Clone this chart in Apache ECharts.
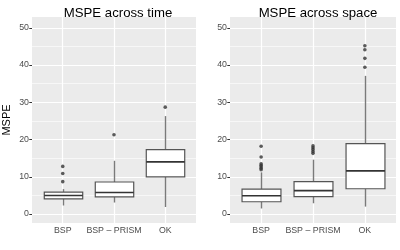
<!DOCTYPE html>
<html><head><meta charset="utf-8">
<script src="https://cdn.jsdelivr.net/npm/echarts@6/dist/echarts.min.js"></script>
<style>html,body{margin:0;padding:0;background:#fff}#c{width:400px;height:250px}</style>
</head><body><div id="c"></div>
<script>
const categories = ['BSP', 'BSP – PRISM', 'OK'];
const panelTitles = ['MSPE across time', 'MSPE across space'];
const yTicks = [0, 10, 20, 30, 40, 50];
const yGrid = [0, 5, 10, 15, 20, 25, 30, 35, 40, 45, 50];
// [lower whisker, Q1, median, Q3, upper whisker]
const timeStats = [
  [2.3, 4.1, 5.0, 5.9, 6.7],
  [3.1, 4.6, 5.8, 8.6, 14.3],
  [1.9, 10.0, 14.0, 17.3, 26.3]
];
const timeOutliers = [
  [8.7, 10.9, 12.8],
  [21.3],
  [28.7]
];
const spaceStats = [
  [1.5, 3.3, 4.9, 6.7, 11.2],
  [2.9, 4.7, 6.3, 8.7, 14.6],
  [2.0, 6.8, 11.6, 18.9, 37.1]
];
const spaceOutliers = [
  [11.9, 12.3, 12.7, 13.1, 13.5, 15.3, 18.2],
  [16.3, 16.8, 17.3, 17.8, 18.3],
  [39.4, 41.8, 44.1, 45.2]
];

const FONT = 'Liberation Sans, Arial, sans-serif';
const chart = echarts.init(document.getElementById('c'), null, {renderer: 'canvas'});

function boxData(stats) { return stats.map((s, i) => [i + 1].concat(s)); }
function outData(outs) {
  const d = [];
  outs.forEach((arr, i) => arr.forEach(v => d.push([i + 1, v])));
  return d;
}
function renderBox(params, api) {
  const x = api.value(0);
  const lo = api.coord([x, api.value(1)]);
  const q1 = api.coord([x, api.value(2)]);
  const md = api.coord([x, api.value(3)]);
  const q3 = api.coord([x, api.value(4)]);
  const hi = api.coord([x, api.value(5)]);
  const w = api.size([0.75, 0])[0];
  const cx = Math.round(q1[0]) + 0.5;
  const wl = {stroke: '#7a7a7a', lineWidth: 1.4};
  return {
    type: 'group',
    children: [
      {type: 'line', shape: {x1: cx, y1: q3[1], x2: cx, y2: hi[1]}, style: wl},
      {type: 'line', shape: {x1: cx, y1: q1[1], x2: cx, y2: lo[1]}, style: wl},
      {type: 'rect', shape: {x: cx - w / 2, y: q3[1], width: w, height: q1[1] - q3[1]},
        style: {fill: '#fff', stroke: '#555', lineWidth: 1.2}},
      {type: 'line', shape: {x1: cx - w / 2, y1: md[1], x2: cx + w / 2, y2: md[1]},
        style: {stroke: '#333', lineWidth: 1.6}}
    ]
  };
}
function gridMarks() {
  const d = yGrid.map(v => ({yAxis: v, lineStyle: {color: '#fff', width: v % 10 === 0 ? 1.2 : 0.6, type: 'solid'}}));
  [1, 2, 3].forEach(v => d.push({xAxis: v, lineStyle: {color: '#fff', width: 1.2, type: 'solid'}}));
  return d;
}

const lefts = [30, 230];
const option = {
  animation: false,
  backgroundColor: '#fff',
  title: panelTitles.map((t, i) => ({
    text: t, left: lefts[i] + 83, top: 2, textAlign: 'center',
    textStyle: {fontFamily: FONT, fontSize: 13.2, fontWeight: 'normal', color: '#000'}
  })),
  grid: lefts.map(l => ({left: l, top: 17, width: 166, height: 206, show: true,
    backgroundColor: '#EBEBEB', borderWidth: 0})),
  xAxis: [0, 1].map(i => ({
    type: 'value', gridIndex: i, min: 0.4, max: 3.6,
    axisLine: {show: false},
    splitLine: {show: false},
    axisTick: {show: true, length: 2.7, customValues: [1, 2, 3], lineStyle: {color: '#333', width: 1}},
    axisLabel: {customValues: [1, 2, 3], margin: 3, color: '#4D4D4D', fontFamily: FONT, fontSize: 8.8,
      formatter: v => categories[Math.round(v) - 1] || ''}
  })),
  yAxis: [0, 1].map(i => ({
    type: 'value', gridIndex: i, min: -2.4, max: 52.9,
    name: i === 0 ? 'MSPE' : '', nameLocation: 'middle', nameGap: 20,
    nameTextStyle: {fontFamily: FONT, fontSize: 11, color: '#000'},
    axisLine: {show: false},
    splitLine: {show: false},
    axisTick: {show: true, length: 2.7, customValues: yTicks, lineStyle: {color: '#333', width: 1}},
    axisLabel: {customValues: yTicks, margin: 3, color: '#4D4D4D', fontFamily: FONT, fontSize: 8.8}
  })),
  series: []
};
[[timeStats, timeOutliers], [spaceStats, spaceOutliers]].forEach((p, i) => {
  option.series.push({
    type: 'custom', xAxisIndex: i, yAxisIndex: i, z: 3,
    renderItem: renderBox, data: boxData(p[0]),
    encode: {x: 0, y: [1, 2, 3, 4, 5]},
    markLine: {silent: true, symbol: ['none', 'none'], z: 1, label: {show: false},
      emphasis: {disabled: true}, data: gridMarks()}
  });
  option.series.push({
    type: 'scatter', xAxisIndex: i, yAxisIndex: i, z: 4,
    symbol: 'circle', symbolSize: 3.6, itemStyle: {color: '#333'},
    data: outData(p[1])
  });
});
chart.setOption(option);
</script>
</body></html>
